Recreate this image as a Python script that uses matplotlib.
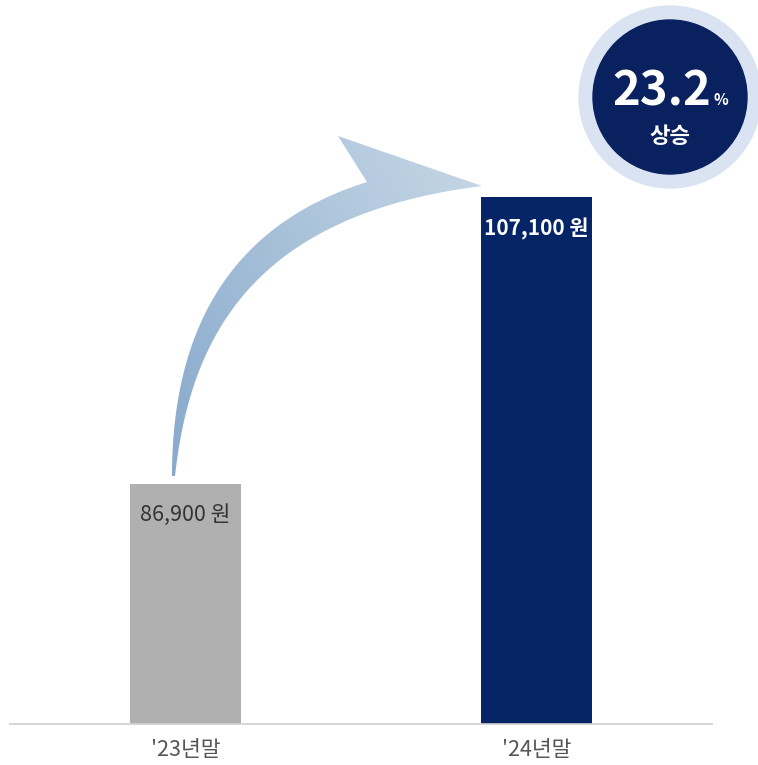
import numpy as np
import matplotlib
matplotlib.use("Agg")
import matplotlib.pyplot as plt
from matplotlib.patches import Circle, Polygon
from matplotlib.colors import LinearSegmentedColormap

plt.rcParams['font.family'] = ['Noto Sans CJK KR', 'DejaVu Sans']

categories = ["'23년말", "'24년말"]
values = [86900, 107100]
value_labels = ["86,900 원", "107,100 원"]
bar_colors = ["#b0b0b0", "#062566"]
label_colors = ["#333333", "#ffffff"]
label_weights = ["normal", "bold"]
badge_value = "23.2"
badge_unit = "%"
badge_text = "상승"

W, H = 758, 765
fig = plt.figure(figsize=(W / 100, H / 100), dpi=100)
ax = fig.add_axes([10 / W, 41 / H, 702 / W, 724 / H])
x = np.arange(len(categories))
ax.bar(x, values, width=0.316, color=bar_colors, zorder=2)
ax.set_xlim(-0.5, 1.5)
ax.set_ylim(70000, 121000)
for s in ['top', 'right', 'left']:
    ax.spines[s].set_visible(False)
ax.spines['bottom'].set_color('#d0d0d0')
ax.spines['bottom'].set_linewidth(1.2)
ax.set_yticks([])
ax.set_xticks(x)
ax.set_xticklabels(categories, fontsize=15.5, color='#555555', fontweight='light')
ax.tick_params(axis='x', length=0, pad=11)

for xi, v, lab, c, w in zip(x, values, value_labels, label_colors, label_weights):
    ax.annotate(lab, (xi, v), xytext=(0, -22.5), textcoords='offset points',
                ha='center', va='center', fontsize=15.5 if w == 'normal' else 15,
                color=c, fontweight=w, zorder=3)

# overlay in pixel coordinates for decorations
ov = fig.add_axes([0, 0, 1, 1], facecolor='none')
ov.set_xlim(0, W)
ov.set_ylim(H, 0)
ov.axis('off')

def bez(p0, p1, p2, p3, n=80):
    t = np.linspace(0, 1, n)[:, None]
    p0, p1, p2, p3 = map(np.array, (p0, p1, p2, p3))
    return ((1 - t) ** 3) * p0 + 3 * ((1 - t) ** 2) * t * p1 + 3 * (1 - t) * t ** 2 * p2 + t ** 3 * p3

upper = bez((172, 476), (172, 330), (230, 225), (367, 182))
lower = bez((175, 476), (190, 340), (250, 215), (482, 186))
pts = np.vstack([upper, [[338, 136]], lower[::-1]])
poly = Polygon(pts, closed=True, facecolor='none', edgecolor='none')
ov.add_patch(poly)
gx = np.linspace(0, 1, 200)
gy = np.linspace(0, 1, 200)
GX, GY = np.meshgrid(gx, gy)
grad = 0.6 * GX + 0.4 * (1 - GY)
cmap = LinearSegmentedColormap.from_list('arr', ['#87a9cc', '#c9d9e7'])
im = ov.imshow(grad, cmap=cmap, extent=(165, 490, 480, 130), aspect='auto',
               origin='upper', zorder=1)
im.set_clip_path(poly)

# badge
ov.add_patch(Circle((670, 97), 91, color='#dae3f2', zorder=2))
ov.add_patch(Circle((670, 97), 77, color='#0a2160', zorder=3))
ov.text(711, 105, badge_value, ha='right', va='baseline', fontsize=34,
        fontweight='bold', color='white', zorder=4)
ov.text(713, 105, badge_unit, ha='left', va='baseline', fontsize=11,
        fontweight='bold', color='white', zorder=4)
ov.text(670, 136, badge_text, ha='center', va='center', fontsize=16,
        fontweight='bold', color='white', zorder=4)

fig.savefig('out.png', dpi=100)
